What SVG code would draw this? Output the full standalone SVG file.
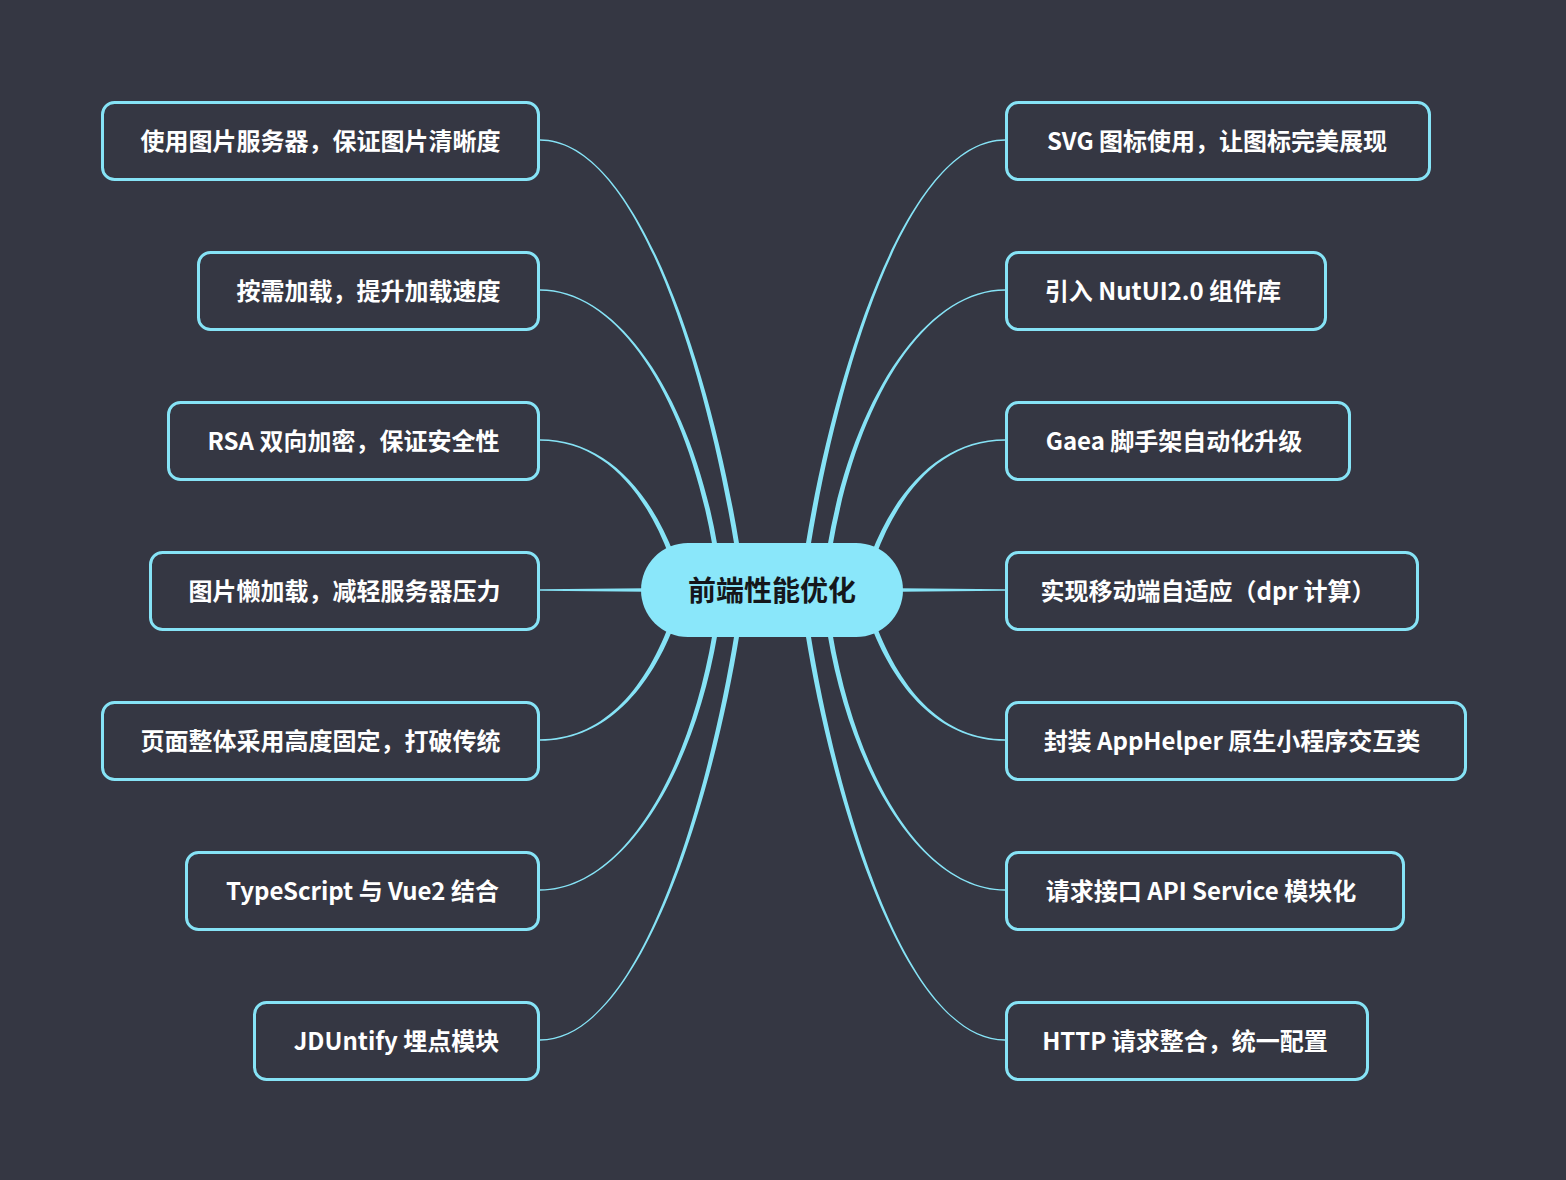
<svg xmlns="http://www.w3.org/2000/svg" width="1566" height="1180" viewBox="0 0 1566 1180">
<style>
.bg{fill:#353743}
.box rect{fill:#353743;stroke:#86e3f6;stroke-width:3}
.box text{fill:#ffffff;font-family:"Noto Sans CJK SC","Noto Sans",sans-serif;font-weight:700;font-size:24px;text-anchor:middle;dominant-baseline:central}
.conn path{fill:#86e3f6}
#center rect{fill:#8ae7fa}
#center text{fill:#15171b;font-family:"Noto Sans CJK SC","Noto Sans",sans-serif;font-weight:700;font-size:28px;text-anchor:middle;dominant-baseline:central}
</style>
<rect class="bg" x="0" y="0" width="1566" height="1180"/>
<g class="conn" id="connectors">
<path d="M540,139.3 C640,139.3 712.5,380 739.5,546 L734.5,546 C707.5,380 640,140.7 540,140.7 Z"/>
<path d="M540,289.3 C620,289.3 692.5,400 717.5,546 L712.5,546 C687.5,400 620,290.7 540,290.7 Z"/>
<path d="M540,439.3 C600,439.3 647,484 674.3,555.1 L669.7,556.9 C643,486 600,440.7 540,440.7 Z"/>
<path d="M540,589.3 L645,588.2 L645,591.8 L540,590.7 Z"/>
<path d="M540,740.7 C600,740.7 647,696 674.3,624.9 L669.7,623.1 C643,694 600,739.3 540,739.3 Z"/>
<path d="M540,890.7 C620,890.7 692.5,780 717.5,634 L712.5,634 C687.5,780 620,889.3 540,889.3 Z"/>
<path d="M540,1040.7 C640,1040.7 712.5,800 739.5,634 L734.5,634 C707.5,800 640,1039.3 540,1039.3 Z"/>
<path d="M1005,139.3 C905,139.3 832.5,380 805.5,546 L810.5,546 C837.5,380 905,140.7 1005,140.7 Z"/>
<path d="M1005,289.3 C925,289.3 852.5,400 827.5,546 L832.5,546 C857.5,400 925,290.7 1005,290.7 Z"/>
<path d="M1005,439.3 C945,439.3 898,484 870.7,555.1 L875.3,556.9 C902,486 945,440.7 1005,440.7 Z"/>
<path d="M1005,589.3 L900,588.2 L900,591.8 L1005,590.7 Z"/>
<path d="M1005,740.7 C945,740.7 898,696 870.7,624.9 L875.3,623.1 C902,694 945,739.3 1005,739.3 Z"/>
<path d="M1005,890.7 C925,890.7 852.5,780 827.5,634 L832.5,634 C857.5,780 925,889.3 1005,889.3 Z"/>
<path d="M1005,1040.7 C905,1040.7 832.5,800 805.5,634 L810.5,634 C837.5,800 905,1039.3 1005,1039.3 Z"/>
</g>
<g id="center"><rect x="641" y="543" width="262" height="94" rx="47"/><text x="772" y="589">前端性能优化</text></g>
<g class="box" id="l1"><rect x="102.5" y="102.5" width="436" height="77" rx="12"/><text x="320.5" y="139">使用图片服务器，保证图片清晰度</text></g>
<g class="box" id="l2"><rect x="198.5" y="252.5" width="340" height="77" rx="12"/><text x="368.5" y="289">按需加载，提升加载速度</text></g>
<g class="box" id="l3"><rect x="168.5" y="402.5" width="370" height="77" rx="12"/><text x="353.5" y="439">RSA 双向加密，保证安全性</text></g>
<g class="box" id="l4"><rect x="150.5" y="552.5" width="388" height="77" rx="12"/><text x="344.5" y="589">图片懒加载，减轻服务器压力</text></g>
<g class="box" id="l5"><rect x="102.5" y="702.5" width="436" height="77" rx="12"/><text x="320.5" y="739">页面整体采用高度固定，打破传统</text></g>
<g class="box" id="l6"><rect x="186.5" y="852.5" width="352" height="77" rx="12"/><text x="362.5" y="889">TypeScript 与 Vue2 结合</text></g>
<g class="box" id="l7"><rect x="254.5" y="1002.5" width="284" height="77" rx="12"/><text x="396.5" y="1039">JDUntify 埋点模块</text></g>
<g class="box" id="r1"><rect x="1006.5" y="102.5" width="423" height="77" rx="12"/><text x="1217" y="139">SVG 图标使用，让图标完美展现</text></g>
<g class="box" id="r2"><rect x="1006.5" y="252.5" width="319" height="77" rx="12"/><text x="1163" y="289">引入 NutUI2.0 组件库</text></g>
<g class="box" id="r3"><rect x="1006.5" y="402.5" width="343" height="77" rx="12"/><text x="1174" y="439">Gaea 脚手架自动化升级</text></g>
<g class="box" id="r4"><rect x="1006.5" y="552.5" width="411" height="77" rx="12"/><text x="1208" y="589">实现移动端自适应（dpr 计算）</text></g>
<g class="box" id="r5"><rect x="1006.5" y="702.5" width="459" height="77" rx="12"/><text x="1232" y="739">封装 AppHelper 原生小程序交互类</text></g>
<g class="box" id="r6"><rect x="1006.5" y="852.5" width="397" height="77" rx="12"/><text x="1201" y="889">请求接口 API Service 模块化</text></g>
<g class="box" id="r7"><rect x="1006.5" y="1002.5" width="361" height="77" rx="12"/><text x="1185" y="1039">HTTP 请求整合，统一配置</text></g>
</svg>
